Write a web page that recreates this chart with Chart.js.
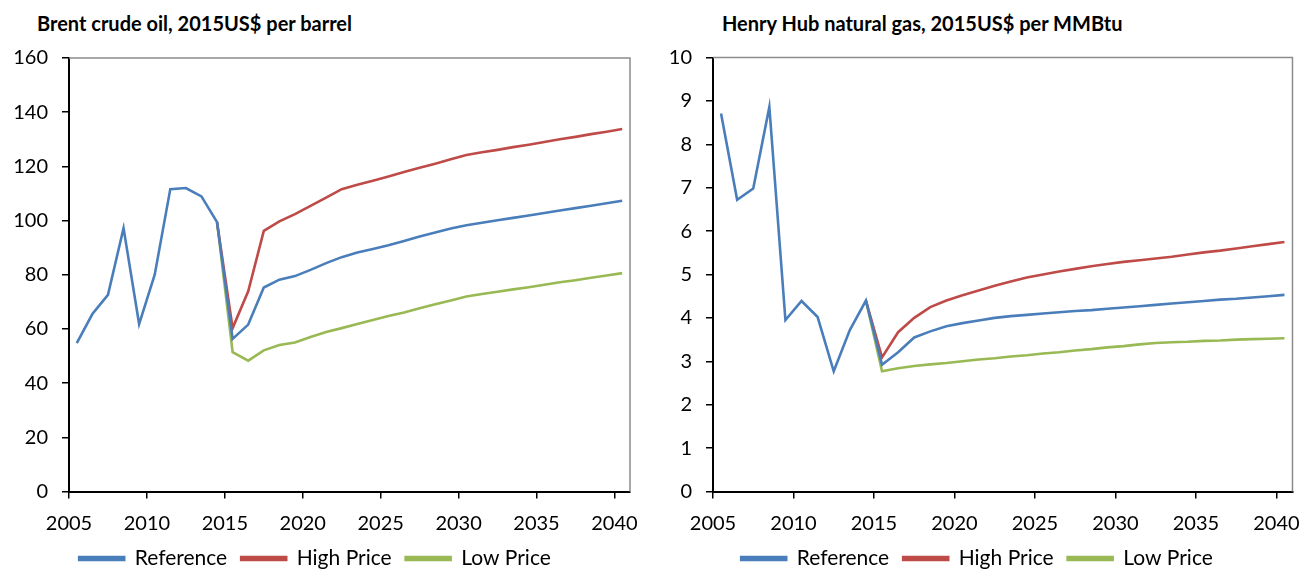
<!DOCTYPE html>
<html>
<head>
<meta charset="utf-8">
<script src="https://cdn.jsdelivr.net/npm/chart.js@4.4.1/dist/chart.umd.min.js"></script>
<style>
html,body{margin:0;padding:0;background:#fff;overflow:hidden;width:1313px;height:569px}
.box{position:absolute;top:0;height:579px}
.ttl{position:absolute;top:11px;font:bold 20px Lato, sans-serif;color:#000;white-space:nowrap}
</style>
</head>
<body>
<div class="ttl" style="left:37px">Brent crude oil, 2015US$ per barrel</div>
<div class="ttl" style="left:722px">Henry Hub natural gas, 2015US$ per MMBtu</div>
<div class="box" style="left:0;width:656px"><canvas id="oilChart"></canvas></div>
<div class="box" style="left:656px;width:657px"><canvas id="gasChart"></canvas></div>
<script>
var years=[2005,2006,2007,2008,2009,2010,2011,2012,2013,2014,2015,2016,2017,2018,2019,2020,2021,2022,2023,2024,2025,2026,2027,2028,2029,2030,2031,2032,2033,2034,2035,2036,2037,2038,2039,2040];
var tickYears=[2005,2010,2015,2020,2025,2030,2035,2040];
var seriesNames=["Reference","High Price","Low Price"];

// Brent, 2015US$/bbl
var oilRef=[54.8,65.5,72.6,97.2,61.8,80.0,111.6,112.0,108.9,99.4,56.3,61.6,75.3,78.2,79.5,81.8,84.3,86.5,88.2,89.5,90.9,92.5,94.1,95.6,97.1,98.3,99.2,100.1,101.0,101.9,102.8,103.7,104.6,105.5,106.4,107.3];
var oilHigh=[null,null,null,null,null,null,null,null,null,99.4,60.3,73.9,96.2,99.7,102.4,105.4,108.5,111.6,113.2,114.7,116.3,117.9,119.5,121.0,122.6,124.2,125.2,126.1,127.1,128.0,129.0,130.0,130.9,131.9,132.8,133.8];
var oilLow=[null,null,null,null,null,null,null,null,null,99.4,51.4,48.3,52.1,54.1,55.0,57.0,58.9,60.3,61.8,63.3,64.8,66.1,67.6,69.1,70.5,72.0,72.9,73.7,74.6,75.4,76.3,77.2,78.0,78.9,79.7,80.6];

// Henry Hub, 2015US$/MMBtu
var gasRef=[8.71,6.72,6.98,8.86,3.95,4.39,4.02,2.77,3.72,4.40,2.92,3.21,3.55,3.69,3.81,3.88,3.94,4.00,4.04,4.07,4.10,4.13,4.16,4.18,4.21,4.24,4.27,4.30,4.33,4.36,4.39,4.42,4.44,4.47,4.50,4.53];
var gasHigh=[null,null,null,null,null,null,null,null,null,4.40,3.09,3.67,4.00,4.25,4.40,4.52,4.63,4.74,4.84,4.93,5.00,5.07,5.13,5.19,5.24,5.29,5.33,5.37,5.41,5.46,5.51,5.55,5.60,5.65,5.70,5.75];
var gasLow=[null,null,null,null,null,null,null,null,null,4.40,2.77,2.84,2.89,2.93,2.96,3.00,3.04,3.07,3.11,3.14,3.18,3.21,3.25,3.28,3.32,3.35,3.39,3.42,3.44,3.45,3.47,3.48,3.50,3.51,3.52,3.53];

var colors=["#4a7ebb","#be4b48","#98b954"];

// points sit in the middle of each year, like an excel category axis
function pts(vals){
  return years.map(function(y,i){return {x:y+0.5,y:vals[i]};});
}

var plotFrame={
  id:"plotFrame",
  beforeDatasetsDraw:function(chart){
    var a=chart.chartArea, c=chart.ctx;
    c.save();
    c.strokeStyle="#8c8c8c";
    c.lineWidth=1.5;
    c.beginPath();
    c.moveTo(a.left,a.top);c.lineTo(a.right,a.top);c.lineTo(a.right,a.bottom);
    c.stroke();
    c.restore();
  }
};

function plot(id,ref,high,low,yMax,yStep,axisW,padR,padT){
  var data=[ref,high,low];
  var ctx=document.getElementById(id).getContext("2d");
  return new Chart(ctx,{
    type:"line",
    data:{
      datasets:data.map(function(d,i){
        return {
          label:seriesNames[i],
          data:pts(d),
          borderColor:colors[i],
          backgroundColor:colors[i],
          borderWidth:2.6,
          pointRadius:0,
          tension:0
        };
      })
    },
    options:{
      responsive:true,
      maintainAspectRatio:false,
      animation:false,
      layout:{padding:{top:padT,right:padR,left:0,bottom:0}},
      plugins:{
        tooltip:{enabled:false},
        legend:{
          position:"bottom",
          labels:{boxWidth:45,boxHeight:3,padding:14,color:"#000",font:{family:"Lato",size:21}}
        }
      },
      scales:{
        x:{
          type:"linear",
          min:2005,max:2041,
          ticks:{color:"#000",padding:13,maxRotation:0,font:{family:"Lato",size:20},
            callback:function(v){return String(v);}},
          afterBuildTicks:function(s){s.ticks=tickYears.map(function(v){return {value:v};});},
          afterFit:function(s){s.height=534-491.5;},
          grid:{drawOnChartArea:false,drawTicks:true,tickLength:7,color:"#000",lineWidth:1.5},
          border:{color:"#000",width:2}
        },
        y:{
          min:0,max:yMax,
          ticks:{stepSize:yStep,color:"#000",padding:14,font:{family:"Lato",size:20}},
          afterFit:function(s){s.width=axisW;},
          grid:{drawOnChartArea:false,drawTicks:true,tickLength:7,color:"#000",lineWidth:1.5},
          border:{color:"#000",width:2}
        }
      }
    },
    plugins:[plotFrame]
  });
}

plot("oilChart",oilRef,oilHigh,oilLow,160,20,69,26,58);
plot("gasChart",gasRef,gasHigh,gasLow,10,1,57,15,57.5);
</script>
</body>
</html>
